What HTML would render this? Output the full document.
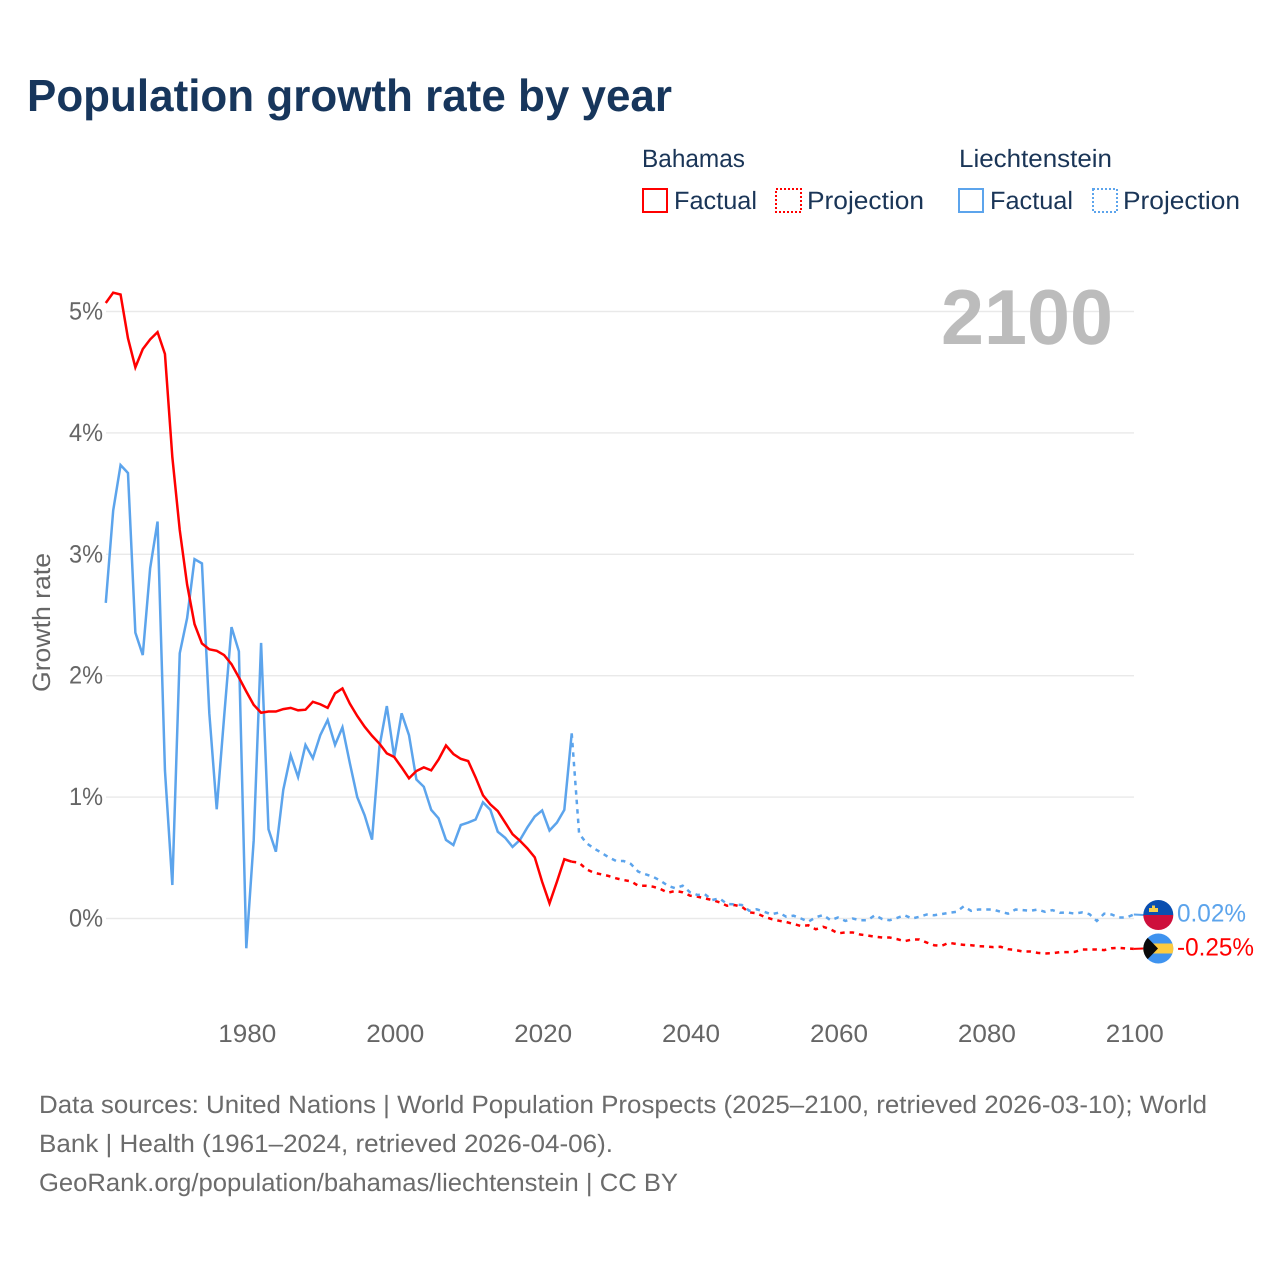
<!DOCTYPE html>
<html lang="en">
<head>
<meta charset="utf-8">
<title>Population growth rate by year</title>
<style>
html,body{margin:0;padding:0;background:#fff;}
svg{display:block;}
text{font-family:"Liberation Sans",sans-serif;}
</style>
</head>
<body>
<svg id="chart" xmlns="http://www.w3.org/2000/svg" width="1280" height="1280" viewBox="0 0 1280 1280" text-rendering="geometricPrecision">
  <defs>
    <clipPath id="flag-clip-li"><circle cx="1158.3" cy="915" r="15"/></clipPath>
    <clipPath id="flag-clip-bs"><circle cx="1158.3" cy="948.5" r="15"/></clipPath>
  </defs>
  <rect width="1280" height="1280" fill="#fff"/>
  <text x="27" y="111" font-size="45" font-weight="700" fill="#17365c" textLength="645" lengthAdjust="spacingAndGlyphs">Population growth rate by year</text>

  <g font-size="25" fill="#1a3557">
    <text x="642" y="167" textLength="103" lengthAdjust="spacingAndGlyphs">Bahamas</text>
    <text x="959" y="167" textLength="153" lengthAdjust="spacingAndGlyphs">Liechtenstein</text>
    <rect x="643" y="189" width="24" height="23" fill="none" stroke="#ff0000" stroke-width="2"/>
    <text x="674" y="209" textLength="83" lengthAdjust="spacingAndGlyphs">Factual</text>
    <rect x="776" y="189" width="25" height="23" fill="none" stroke="#ff0000" stroke-width="2" stroke-dasharray="2,2"/>
    <text x="807" y="209" textLength="117" lengthAdjust="spacingAndGlyphs">Projection</text>
    <rect x="959" y="189" width="24" height="23" fill="none" stroke="#5ca4ec" stroke-width="2"/>
    <text x="990" y="209" textLength="83" lengthAdjust="spacingAndGlyphs">Factual</text>
    <rect x="1093" y="189" width="24" height="23" fill="none" stroke="#5ca4ec" stroke-width="2" stroke-dasharray="2,2"/>
    <text x="1123" y="209" textLength="117" lengthAdjust="spacingAndGlyphs">Projection</text>
  </g>

  <g id="grid"></g>
  <g id="y-ticks"></g>
  <g id="x-ticks"></g>
  <text transform="translate(50,622.5) rotate(-90)" text-anchor="middle" font-size="25" fill="#666" textLength="139" lengthAdjust="spacingAndGlyphs">Growth rate</text>
  <text x="941" y="344" font-size="78" font-weight="700" fill="#bcbcbc" textLength="172" lengthAdjust="spacingAndGlyphs">2100</text>

  <g id="series"></g>

  <g clip-path="url(#flag-clip-li)">
    <rect x="1143" y="900" width="31" height="15" fill="#0a4fb0"/>
    <rect x="1143" y="915" width="31" height="16" fill="#ce0f3c"/>
    <rect x="1149" y="908" width="9" height="4" fill="#f5cf4c"/>
    <rect x="1152" y="905.5" width="3" height="3" fill="#f5cf4c"/>
  </g>
  <g clip-path="url(#flag-clip-bs)">
    <rect x="1143" y="933" width="31" height="31" fill="#3f93ef"/>
    <rect x="1143" y="943.5" width="31" height="10" fill="#fdcb3f"/>
    <polygon points="1143,933 1158,948.5 1143,964" fill="#0a0a0a"/>
  </g>
  <text x="1177" y="921.5" font-size="25" fill="#5ca4ec" textLength="69" lengthAdjust="spacingAndGlyphs">0.02%</text>
  <text x="1177" y="955.5" font-size="25" fill="#ff0000" textLength="77" lengthAdjust="spacingAndGlyphs">-0.25%</text>

  <g font-size="25" fill="#6b6b6b">
    <text x="39" y="1113" textLength="1168" lengthAdjust="spacingAndGlyphs">Data sources: United Nations | World Population Prospects (2025–2100, retrieved 2026-03-10); World</text>
    <text x="39" y="1152" textLength="574" lengthAdjust="spacingAndGlyphs">Bank | Health (1961–2024, retrieved 2026-04-06).</text>
    <text x="39" y="1191" textLength="639" lengthAdjust="spacingAndGlyphs">GeoRank.org/population/bahamas/liechtenstein | CC BY</text>
  </g>
</svg>
<script>
const firstYear = 1961;
const projectionStartYear = 2024;
const yTickValues = [0, 1, 2, 3, 4, 5];
const xTickValues = [1980, 2000, 2020, 2040, 2060, 2080, 2100];
const bahamasFactual = [5.07,5.155,5.14,4.78,4.54,4.69,4.77,4.83,4.65,3.8,3.2,2.75,2.425,2.265,2.217,2.205,2.17,2.095,1.985,1.87,1.76,1.695,1.705,1.705,1.725,1.735,1.715,1.72,1.785,1.765,1.735,1.855,1.895,1.77,1.668,1.58,1.505,1.44,1.36,1.33,1.245,1.155,1.215,1.245,1.22,1.31,1.425,1.355,1.315,1.297,1.163,1.015,0.94,0.885,0.79,0.695,0.64,0.578,0.504,0.303,0.125,0.303,0.488,0.468];
const liechtensteinFactual = [2.6,3.36,3.735,3.67,2.355,2.17,2.885,3.27,1.22,0.276,2.185,2.475,2.96,2.925,1.69,0.9,1.66,2.4,2.2,-0.245,0.645,2.27,0.735,0.55,1.06,1.345,1.165,1.43,1.32,1.51,1.635,1.43,1.575,1.28,1.0,0.85,0.65,1.415,1.75,1.33,1.69,1.51,1.145,1.085,0.895,0.825,0.647,0.605,0.77,0.79,0.815,0.957,0.895,0.715,0.665,0.59,0.647,0.75,0.84,0.89,0.725,0.79,0.895,1.525];
const bahamasProjection = [0.468,0.46,0.405,0.377,0.364,0.35,0.331,0.317,0.306,0.27,0.27,0.262,0.243,0.2125,0.227,0.216,0.188,0.18,0.166,0.152,0.133,0.105,0.111,0.097,0.051,0.043,0.015,-0.004,-0.018,-0.029,-0.045,-0.062,-0.056,-0.089,-0.068,-0.089,-0.122,-0.115,-0.115,-0.132,-0.14,-0.15,-0.157,-0.157,-0.17,-0.187,-0.173,-0.173,-0.198,-0.22,-0.225,-0.2,-0.21,-0.217,-0.22,-0.228,-0.23,-0.236,-0.233,-0.253,-0.26,-0.272,-0.272,-0.283,-0.288,-0.286,-0.277,-0.277,-0.275,-0.255,-0.255,-0.255,-0.26,-0.245,-0.242,-0.247,-0.25];
const liechtensteinProjection = [1.525,0.7,0.62,0.578,0.542,0.504,0.474,0.474,0.449,0.386,0.364,0.344,0.311,0.27,0.249,0.27,0.216,0.194,0.2,0.152,0.166,0.119,0.117,0.111,0.064,0.076,0.056,0.035,0.048,0.015,0.023,0.0,-0.026,0.01,0.029,-0.014,0.008,-0.02,0.0,-0.014,-0.014,0.027,-0.005,-0.014,0.005,0.027,0.0,0.014,0.033,0.027,0.036,0.047,0.055,0.1,0.063,0.074,0.074,0.074,0.055,0.04,0.074,0.069,0.063,0.074,0.055,0.069,0.047,0.05,0.04,0.05,0.036,-0.02,0.04,0.033,0.008,0.008,0.033];

const SVGNS = 'http://www.w3.org/2000/svg';
function xScale(year){ return 246.3 + (year - 1980) * (1133.8 - 246.3) / 120; }
function yScale(v){ return 918.5 - v * 121.4; }
function pathFrom(values, startYear){
  return values.map(function(v, i){
    return (i ? 'L' : 'M') + xScale(startYear + i).toFixed(2) + ' ' + yScale(v).toFixed(2);
  }).join(' ');
}

const grid = document.getElementById('grid');
const yTicksGroup = document.getElementById('y-ticks');
yTickValues.forEach(function(v){
  const line = document.createElementNS(SVGNS, 'line');
  
  
  line.setAttribute('x1', 106);
  line.setAttribute('x2', 1134);
  line.setAttribute('y1', yScale(v));
  line.setAttribute('y2', yScale(v));
  line.setAttribute('stroke', '#e9e9e9');
  line.setAttribute('stroke-width', 1.4);
  grid.appendChild(line);
  const label = document.createElementNS(SVGNS, 'text');
  
  
  label.setAttribute('x', 103);
  label.setAttribute('y', yScale(v) + 8);
  label.setAttribute('text-anchor', 'end');
  label.setAttribute('font-size', 25);
  label.setAttribute('fill', '#666');
  label.setAttribute('textLength', 34);
  label.setAttribute('lengthAdjust', 'spacingAndGlyphs');
  label.textContent = v + '%';
  yTicksGroup.appendChild(label);
});

const xTicksGroup = document.getElementById('x-ticks');
xTickValues.forEach(function(year){
  const label = document.createElementNS(SVGNS, 'text');
  
  
  label.setAttribute('x', xScale(year) + 1);
  label.setAttribute('y', 1042);
  label.setAttribute('text-anchor', 'middle');
  label.setAttribute('font-size', 25);
  label.setAttribute('fill', '#666');
  label.setAttribute('textLength', 58);
  label.setAttribute('lengthAdjust', 'spacingAndGlyphs');
  label.textContent = year;
  xTicksGroup.appendChild(label);
});

const seriesGroup = document.getElementById('series');

const bahamasProjectionLine = document.createElementNS(SVGNS, 'path');


bahamasProjectionLine.setAttribute('d', pathFrom(bahamasProjection, projectionStartYear));
bahamasProjectionLine.setAttribute('fill', 'none');
bahamasProjectionLine.setAttribute('stroke', '#ff0000');
bahamasProjectionLine.setAttribute('stroke-width', 2.5);
bahamasProjectionLine.setAttribute('stroke-dasharray', '4.5,5');
seriesGroup.appendChild(bahamasProjectionLine);

const liechtensteinProjectionLine = document.createElementNS(SVGNS, 'path');


liechtensteinProjectionLine.setAttribute('d', pathFrom(liechtensteinProjection, projectionStartYear));
liechtensteinProjectionLine.setAttribute('fill', 'none');
liechtensteinProjectionLine.setAttribute('stroke', '#5ca4ec');
liechtensteinProjectionLine.setAttribute('stroke-width', 2.5);
liechtensteinProjectionLine.setAttribute('stroke-dasharray', '4.5,5');
seriesGroup.appendChild(liechtensteinProjectionLine);

const liechtensteinFactualLine = document.createElementNS(SVGNS, 'path');


liechtensteinFactualLine.setAttribute('d', pathFrom(liechtensteinFactual, firstYear));
liechtensteinFactualLine.setAttribute('fill', 'none');
liechtensteinFactualLine.setAttribute('stroke', '#5ca4ec');
liechtensteinFactualLine.setAttribute('stroke-width', 2.5);
seriesGroup.appendChild(liechtensteinFactualLine);

const bahamasFactualLine = document.createElementNS(SVGNS, 'path');


bahamasFactualLine.setAttribute('d', pathFrom(bahamasFactual, firstYear));
bahamasFactualLine.setAttribute('fill', 'none');
bahamasFactualLine.setAttribute('stroke', '#ff0000');
bahamasFactualLine.setAttribute('stroke-width', 2.5);
seriesGroup.appendChild(bahamasFactualLine);

const liechtensteinLeader = document.createElementNS(SVGNS, 'line');


liechtensteinLeader.setAttribute('x1', xScale(2100));
liechtensteinLeader.setAttribute('y1', yScale(liechtensteinProjection[liechtensteinProjection.length - 1]));
liechtensteinLeader.setAttribute('x2', 1144);
liechtensteinLeader.setAttribute('y2', 915);
liechtensteinLeader.setAttribute('stroke', '#5ca4ec');
liechtensteinLeader.setAttribute('stroke-width', 2);
seriesGroup.appendChild(liechtensteinLeader);

const bahamasLeader = document.createElementNS(SVGNS, 'line');


bahamasLeader.setAttribute('x1', xScale(2100));
bahamasLeader.setAttribute('y1', yScale(bahamasProjection[bahamasProjection.length - 1]));
bahamasLeader.setAttribute('x2', 1144);
bahamasLeader.setAttribute('y2', 948.5);
bahamasLeader.setAttribute('stroke', '#ff0000');
bahamasLeader.setAttribute('stroke-width', 2);
seriesGroup.appendChild(bahamasLeader);
</script>
</body>
</html>
